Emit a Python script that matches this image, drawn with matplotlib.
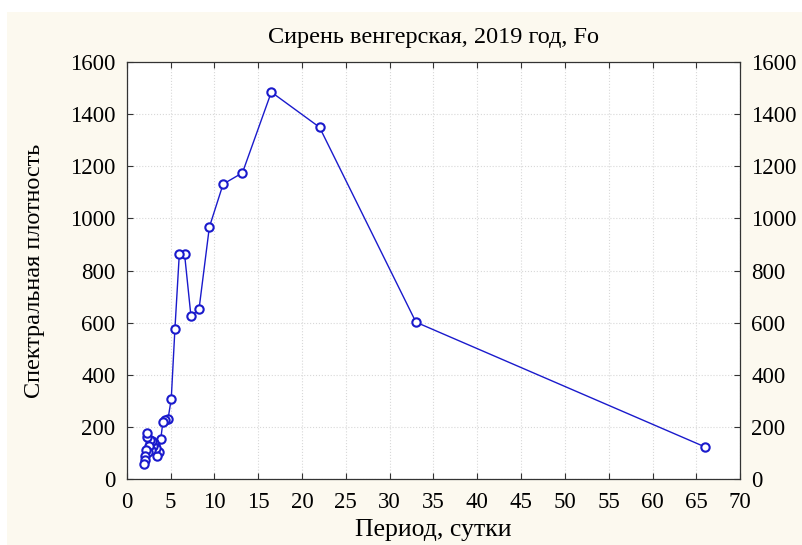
import matplotlib
matplotlib.use('Agg')
import matplotlib.pyplot as plt
from matplotlib.patches import Rectangle

plt.rcParams['font.family'] = ['Liberation Serif', 'DejaVu Serif']

# period (days) and spectral density
period = [66.0, 33.0, 22.0, 16.5, 13.2, 11.0, 9.43, 8.25, 7.33, 6.6, 6.0, 5.5,
          5.08, 4.71, 4.4, 4.125, 3.88, 3.67, 3.47, 3.3, 3.14, 3.0, 2.87, 2.75,
          2.64, 2.54, 2.44, 2.36, 2.28, 2.2, 2.13, 2.06, 2.0]
density = [123, 602, 1350, 1485, 1175, 1132, 967, 652, 625, 863, 863, 576,
           307, 230, 226, 219, 152, 105, 88, 120, 140, 128, 145, 110,
           150, 125, 105, 160, 175, 110, 90, 75, 57]

xticks = list(range(0, 75, 5))
yticks = list(range(0, 1800, 200))

bg = '#fcf9ef'
blue = '#1a1acc'

fig = plt.figure(figsize=(8.02, 5.45), dpi=100, facecolor='white')
# cream panel, leaving thin white strip on top and left like the original
fig.patches.append(Rectangle((7/802, 0), 1, 1 - 12/545, transform=fig.transFigure,
                             facecolor=bg, edgecolor='none', zorder=-10))
ax = fig.add_axes([0.158, 0.121, 0.765, 0.765])
ax.set_facecolor('white')

ax.plot(period, density, color=blue, lw=1.0, marker='o', ms=6,
        mfc='white', mec=blue, mew=1.5, zorder=3)

ax.set_xlim(0, 70)
ax.set_ylim(0, 1600)
ax.set_xticks(xticks)
ax.set_yticks(yticks)
ax.grid(True, color='#d8d8d8', ls=':', lw=0.8)
ax.tick_params(direction='in', top=True, right=True, labelright=True,
               labelsize=16.5, length=4, color='#333333')
ax.tick_params(axis='y', pad=8)
ax.tick_params(axis='x', pad=9)
for s in ax.spines.values():
    s.set_color('#333333')
    s.set_linewidth(0.9)

ax.set_title('Сирень венгерская, 2019 год, Fo', fontsize=17.5, pad=14)
ax.set_xlabel('Период, сутки', fontsize=18.5, labelpad=5)
ax.set_ylabel('Спектральная плотность', fontsize=17.5, labelpad=18)

fig.savefig('out.png', dpi=100)
